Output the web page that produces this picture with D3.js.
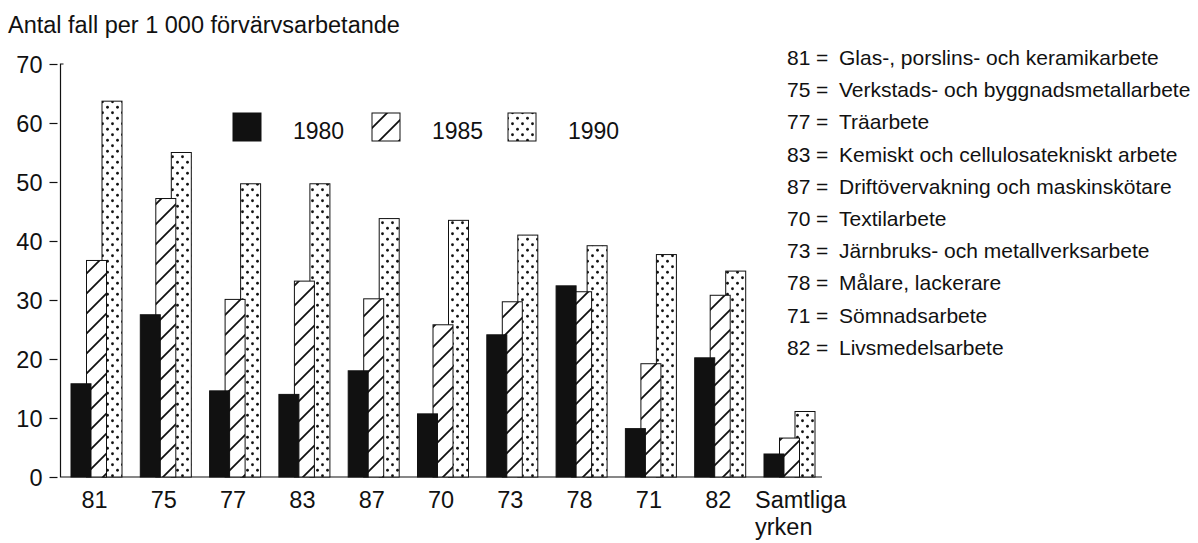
<!DOCTYPE html>
<html>
<head>
<meta charset="utf-8">
<script src="https://cdn.jsdelivr.net/npm/d3@7"></script>
<style>
  body{margin:0;background:#fff}
  svg{display:block;font-family:"Liberation Sans",Arial,Helvetica,sans-serif}
</style>
</head>
<body>
<div id="chart"></div>
<script>
var codes = ['81','75','77','83','87','70','73','78','71','82','Samtliga']
var years = ['1980','1985','1990']
var v1980 = [15.8,27.5,14.6,14.0,18.0,10.7,24.1,32.4,8.2,20.2,3.9]
var v1985 = [36.7,47.2,30.1,33.2,30.2,25.8,29.7,31.4,19.2,30.8,6.6]
var v1990 = [63.7,55.0,49.7,49.7,43.8,43.5,41.0,39.2,37.7,34.9,11.1]
var yTicks = [0,10,20,30,40,50,60,70]
var keyCodes = ['81','75','77','83','87','70','73','78','71','82']
var keyNames = ['Glas-, porslins- och keramikarbete','Verkstads- och byggnadsmetallarbete','Träarbete',
  'Kemiskt och cellulosatekniskt arbete','Driftövervakning och maskinskötare','Textilarbete',
  'Järnbruks- och metallverksarbete','Målare, lackerare','Sömnadsarbete','Livsmedelsarbete']
var title = 'Antal fall per 1 000 förvärvsarbetande'

var width = 1198, height = 543
var svg = d3.select('#chart').append('svg')
    .attr('width',width)
    .attr('height',height)

// fills
var defs = svg.append('defs')
var hatch = defs.append('pattern').attr('id','hatch')
    .attr('patternUnits','userSpaceOnUse').attr('width',20).attr('height',20)
hatch.append('rect').attr('width',20).attr('height',20).attr('fill','#fff')
hatch.append('path').attr('d','M-3,3L3,-3M0,20L20,0M17,23L23,17')
    .attr('stroke','#111').attr('stroke-width',1.8)
var dots = defs.append('pattern').attr('id','dots')
    .attr('patternUnits','userSpaceOnUse').attr('width',10).attr('height',11)
dots.append('rect').attr('width',10).attr('height',11).attr('fill','#fff')
dots.append('circle').attr('cx',2.5).attr('cy',2.75).attr('r',1.4).attr('fill','#111')
dots.append('circle').attr('cx',7.5).attr('cy',8.25).attr('r',1.4).attr('fill','#111')
var fills = {'1980':'#111','1985':'url(#hatch)','1990':'url(#dots)'}

var x0 = 60.5
var x = d3.scaleBand().domain(codes).range([71,815]).paddingInner(0.264).paddingOuter(0)
var xs = d3.scalePoint().domain(years).range([0,x.bandwidth()-20])
var y = d3.scaleLinear().domain([0,70]).range([477,64])

svg.append('text').attr('x',8).attr('y',33)
    .attr('font-size',23.5).attr('fill','#111').text(title)

// y axis
var yAxis = svg.append('g').attr('transform',`translate(${x0},0)`)
    .call(d3.axisLeft(y).tickValues(yTicks).tickSize(11).tickPadding(7))
yAxis.select('.domain').remove()
yAxis.selectAll('.tick line').attr('x1',-3).attr('stroke','#111').attr('stroke-width',1.2)
yAxis.selectAll('.tick text').attr('font-size',23.5).attr('fill','#111')
    .attr('font-family','"Liberation Sans",Arial,Helvetica,sans-serif').attr('dy','0.36em')
svg.append('path').attr('d',`M${x0+3},${y(70)}H${x0}V${y(0)}H822`)
    .attr('fill','none').attr('stroke','#111').attr('stroke-width',1.2)

// bars, back to front
var series = [['1990',v1990],['1985',v1985],['1980',v1980]]
series.forEach(function(s){
  svg.append('g').selectAll('rect').data(s[1]).join('rect')
    .attr('x',(d,i)=>x(codes[i])+xs(s[0]))
    .attr('y',d=>y(d))
    .attr('width',20)
    .attr('height',d=>y(0)-y(d))
    .attr('fill',fills[s[0]])
    .attr('stroke','#111').attr('stroke-width',1)
})

// x labels
var xl = svg.append('g').attr('font-size',23.5).attr('fill','#111')
xl.selectAll('text').data(codes.slice(0,-1)).join('text')
    .attr('x',d=>x(d)+x.bandwidth()/2-2)
    .attr('y',508).attr('text-anchor','middle').text(d=>d)
var last = codes[codes.length-1]
xl.append('text').attr('x',x(last)-9).attr('y',508).text(last)
xl.append('text').attr('x',x(last)-9).attr('y',535).text('yrken')

// legend
var legX = [233,372,508], txtX = [293,432,568]
years.forEach(function(yr,i){
  svg.append('rect').attr('x',legX[i]).attr('y',113).attr('width',28).attr('height',28)
    .attr('fill',fills[yr]).attr('stroke','#111').attr('stroke-width',1)
  svg.append('text').attr('x',txtX[i]).attr('y',139).attr('font-size',23).attr('fill','#111').text(yr)
})

// code key
var key = svg.append('g').attr('font-size',21).attr('fill','#111')
keyCodes.forEach(function(c,i){
  var ty = 65+i*32.2
  key.append('text').attr('x',787).attr('y',ty).text(c)
  key.append('text').attr('x',816).attr('y',ty).text('=')
  key.append('text').attr('x',839).attr('y',ty).text(keyNames[i])
})
</script>
</body>
</html>
